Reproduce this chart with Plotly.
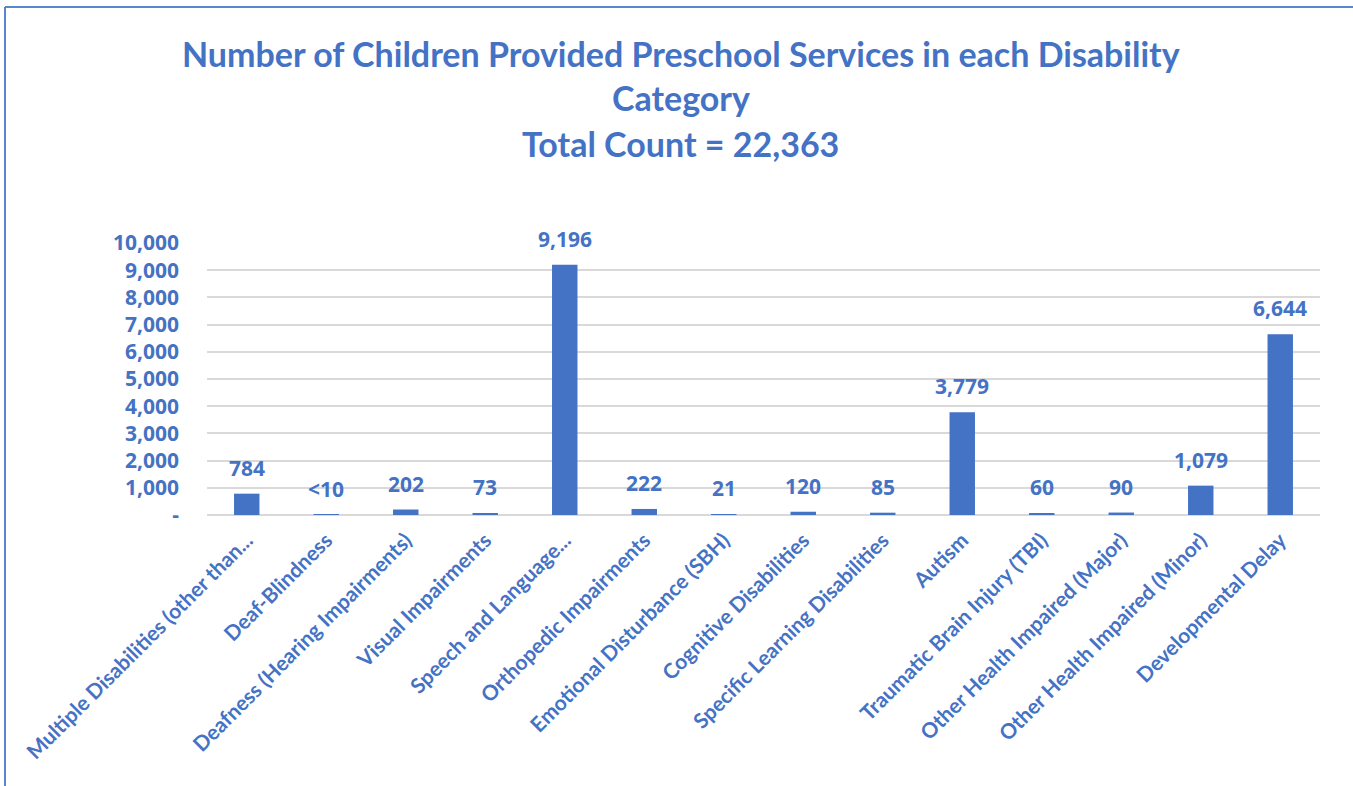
import plotly.graph_objects as go

categories = [
    "Multiple Disabilities (other than...",
    "Deaf-Blindness",
    "Deafness (Hearing Impairments)",
    "Visual Impairments",
    "Speech and Language...",
    "Orthopedic Impairments",
    "Emotional Disturbance (SBH)",
    "Cognitive Disabilities",
    "Specific Learning Disabilities",
    "Autism",
    "Traumatic Brain Injury (TBI)",
    "Other Health Impaired (Major)",
    "Other Health Impaired (Minor)",
    "Developmental Delay",
]
values = [784, 8, 202, 73, 9196, 222, 21, 120, 85, 3779, 60, 90, 1079, 6644]
value_labels = ["784", "<10", "202", "73", "9,196", "222", "21", "120", "85",
                "3,779", "60", "90", "1,079", "6,644"]
tick_vals = [0, 1000, 2000, 3000, 4000, 5000, 6000, 7000, 8000, 9000, 10000]
tick_text = ["-", "1,000", "2,000", "3,000", "4,000", "5,000", "6,000",
             "7,000", "8,000", "9,000", "10,000"]
title_lines = ["Number of Children Provided Preschool Services in each Disability",
               "Category", "Total Count = 22,363"]

BLUE = "#4472C4"
W, H = 1353, 786
ML, MR, MT, MB = 207, 33, 243, 271
plot_h = H - MT - MB
plot_w = W - ML - MR

fig = go.Figure()
fig.add_trace(go.Bar(
    x=categories, y=values, marker=dict(color=BLUE, line=dict(width=0)),
    width=0.32, hoverinfo="x+y",
))

annotations = []
for c, v, t in zip(categories, values, value_labels):
    annotations.append(dict(
        x=c, y=v, xref="x", yref="y", text=t, showarrow=False,
        yanchor="middle", yshift=26,
        font=dict(family="Open Sans", size=21, color=BLUE, weight="bold"),
    ))

title_y = [53, 98, 143]
for line, yp in zip(title_lines, title_y):
    annotations.append(dict(
        x=(W / 2 + 4 - ML) / plot_w, y=(H - MB - yp) / plot_h,
        xref="paper", yref="paper", text=line, showarrow=False,
        xanchor="center", yanchor="middle",
        font=dict(family="Lato", size=34, color=BLUE, weight="bold"),
    ))

shapes = [
    dict(type="line", xref="paper", yref="paper",
         x0=(5 - ML) / plot_w, x1=(W - ML) / plot_w,
         y0=(H - MB - 7) / plot_h, y1=(H - MB - 7) / plot_h,
         line=dict(color="#5A86CF", width=2)),
    dict(type="line", xref="paper", yref="paper",
         x0=(5 - ML) / plot_w, x1=(5 - ML) / plot_w,
         y0=(H - MB - 7) / plot_h, y1=(H - MB - H) / plot_h,
         line=dict(color="#5A86CF", width=2)),
]

fig.update_layout(
    width=W, height=H,
    margin=dict(l=ML, r=MR, t=MT, b=MB, autoexpand=False),
    paper_bgcolor="white", plot_bgcolor="white",
    showlegend=False,
    annotations=annotations,
    shapes=shapes,
    xaxis=dict(
        tickangle=-45, showgrid=False, showline=False, ticks="",
        ticklabelstandoff=8,
        tickfont=dict(family="Lato", size=21, color=BLUE, weight="bold"),
        fixedrange=True,
    ),
    yaxis=dict(
        range=[0, 10000], tickvals=tick_vals, ticktext=tick_text,
        showgrid=True, gridcolor="#D9D9D9", gridwidth=1.5,
        zeroline=True, zerolinecolor="#D9D9D9", zerolinewidth=1.5,
        showline=False, ticks="", ticklabelstandoff=27,
        tickfont=dict(family="Open Sans", size=21, color=BLUE, weight="bold"),
        fixedrange=True,
    ),
)

fig.write_html("out.html", config={"displayModeBar": False},
               post_script="document.body.style.margin='0px';")
